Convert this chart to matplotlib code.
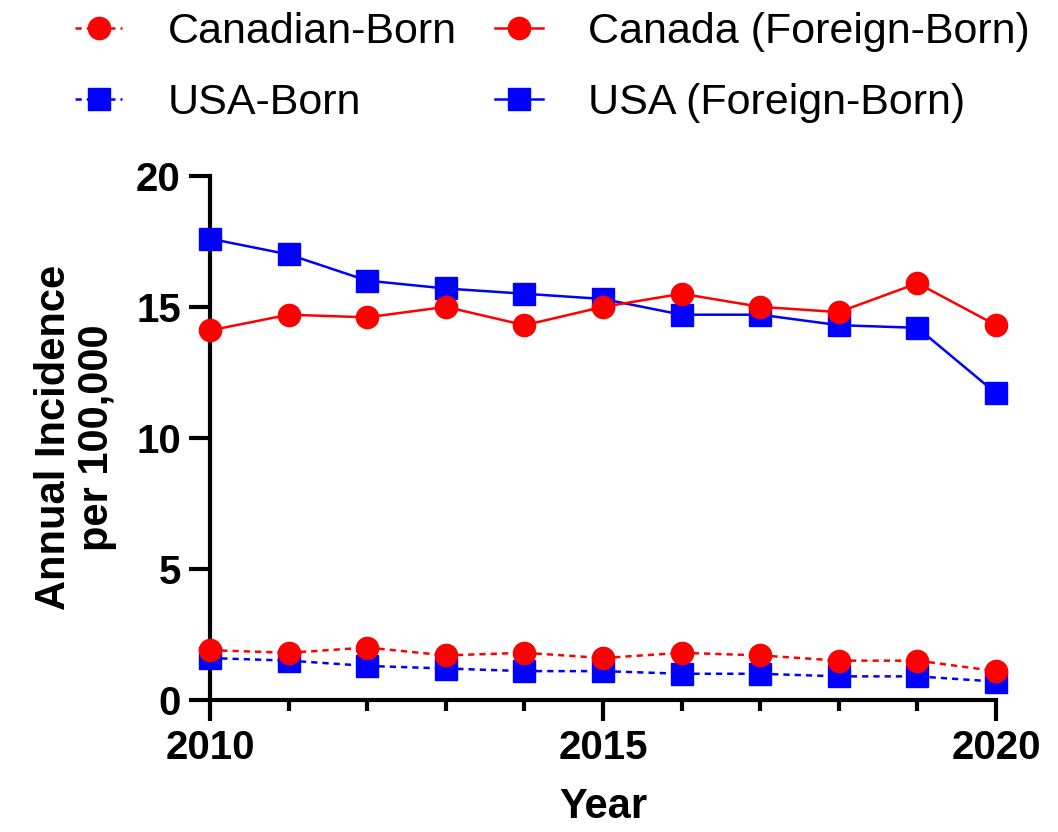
import numpy as np
import matplotlib
matplotlib.use("Agg")
import matplotlib.pyplot as plt
from matplotlib.ticker import MultipleLocator

plt.rcParams['font.family'] = ['Liberation Sans', 'DejaVu Sans']

years = [2010, 2011, 2012, 2013, 2014, 2015, 2016, 2017, 2018, 2019, 2020]
canadian_born = [1.9, 1.8, 2.0, 1.7, 1.8, 1.6, 1.8, 1.7, 1.5, 1.5, 1.1]
canada_foreign = [14.1, 14.7, 14.6, 15.0, 14.3, 15.0, 15.5, 15.0, 14.8, 15.9, 14.3]
usa_born = [1.6, 1.5, 1.3, 1.2, 1.1, 1.1, 1.0, 1.0, 0.9, 0.9, 0.7]
usa_foreign = [17.6, 17.0, 16.0, 15.7, 15.5, 15.3, 14.7, 14.7, 14.3, 14.2, 11.7]

red = '#FF0000'
blue = '#0000FF'

fig = plt.figure(figsize=(10.58, 8.32), dpi=100)
ax = fig.add_axes([0.1985, 0.1587, 0.743, 0.630])

dash = (0, (2.5, 2))
h_usa_b, = ax.plot(years, usa_born, color=blue, ls=dash, lw=1.8, marker='s', ms=16,
                   clip_on=False, zorder=3, label='USA-Born')
h_usa_f, = ax.plot(years, usa_foreign, color=blue, ls='-', lw=1.8, marker='s', ms=16,
                   clip_on=False, zorder=3, label='USA (Foreign-Born)')
h_can_b, = ax.plot(years, canadian_born, color=red, ls=dash, lw=1.8, marker='o', ms=16,
                   clip_on=False, zorder=4, label='Canadian-Born')
h_can_f, = ax.plot(years, canada_foreign, color=red, ls='-', lw=1.8, marker='o', ms=16,
                   clip_on=False, zorder=4, label='Canada (Foreign-Born)')

ax.set_xlim(2010, 2020)
ax.set_ylim(0, 20)
ax.set_xticks([2010, 2015, 2020])
ax.xaxis.set_minor_locator(MultipleLocator(1))
ax.set_yticks([0, 5, 10, 15, 20])

for s in ['top', 'right']:
    ax.spines[s].set_visible(False)
for s in ['left', 'bottom']:
    ax.spines[s].set_linewidth(3)

ax.tick_params(which='major', length=15, width=3, labelsize=29, pad=6)
ax.tick_params(which='minor', length=8, width=3)
for lab in ax.get_xticklabels() + ax.get_yticklabels():
    lab.set_fontweight('bold')

ax.set_xlabel('Year', fontsize=30, fontweight='bold', labelpad=14)
ax.set_ylabel('Annual Incidence\nper 100,000', fontsize=30, fontweight='bold',
              labelpad=14, linespacing=1.1)

fig.legend(handles=[h_can_b, h_usa_b, h_can_f, h_usa_f], ncol=2, frameon=False,
           loc='upper center', bbox_to_anchor=(0.522, 1.017), fontsize=31,
           handlelength=1.1, handletextpad=1.05, columnspacing=0.9,
           labelspacing=0.72, borderaxespad=0.2)

fig.savefig('out.png', dpi=100)
